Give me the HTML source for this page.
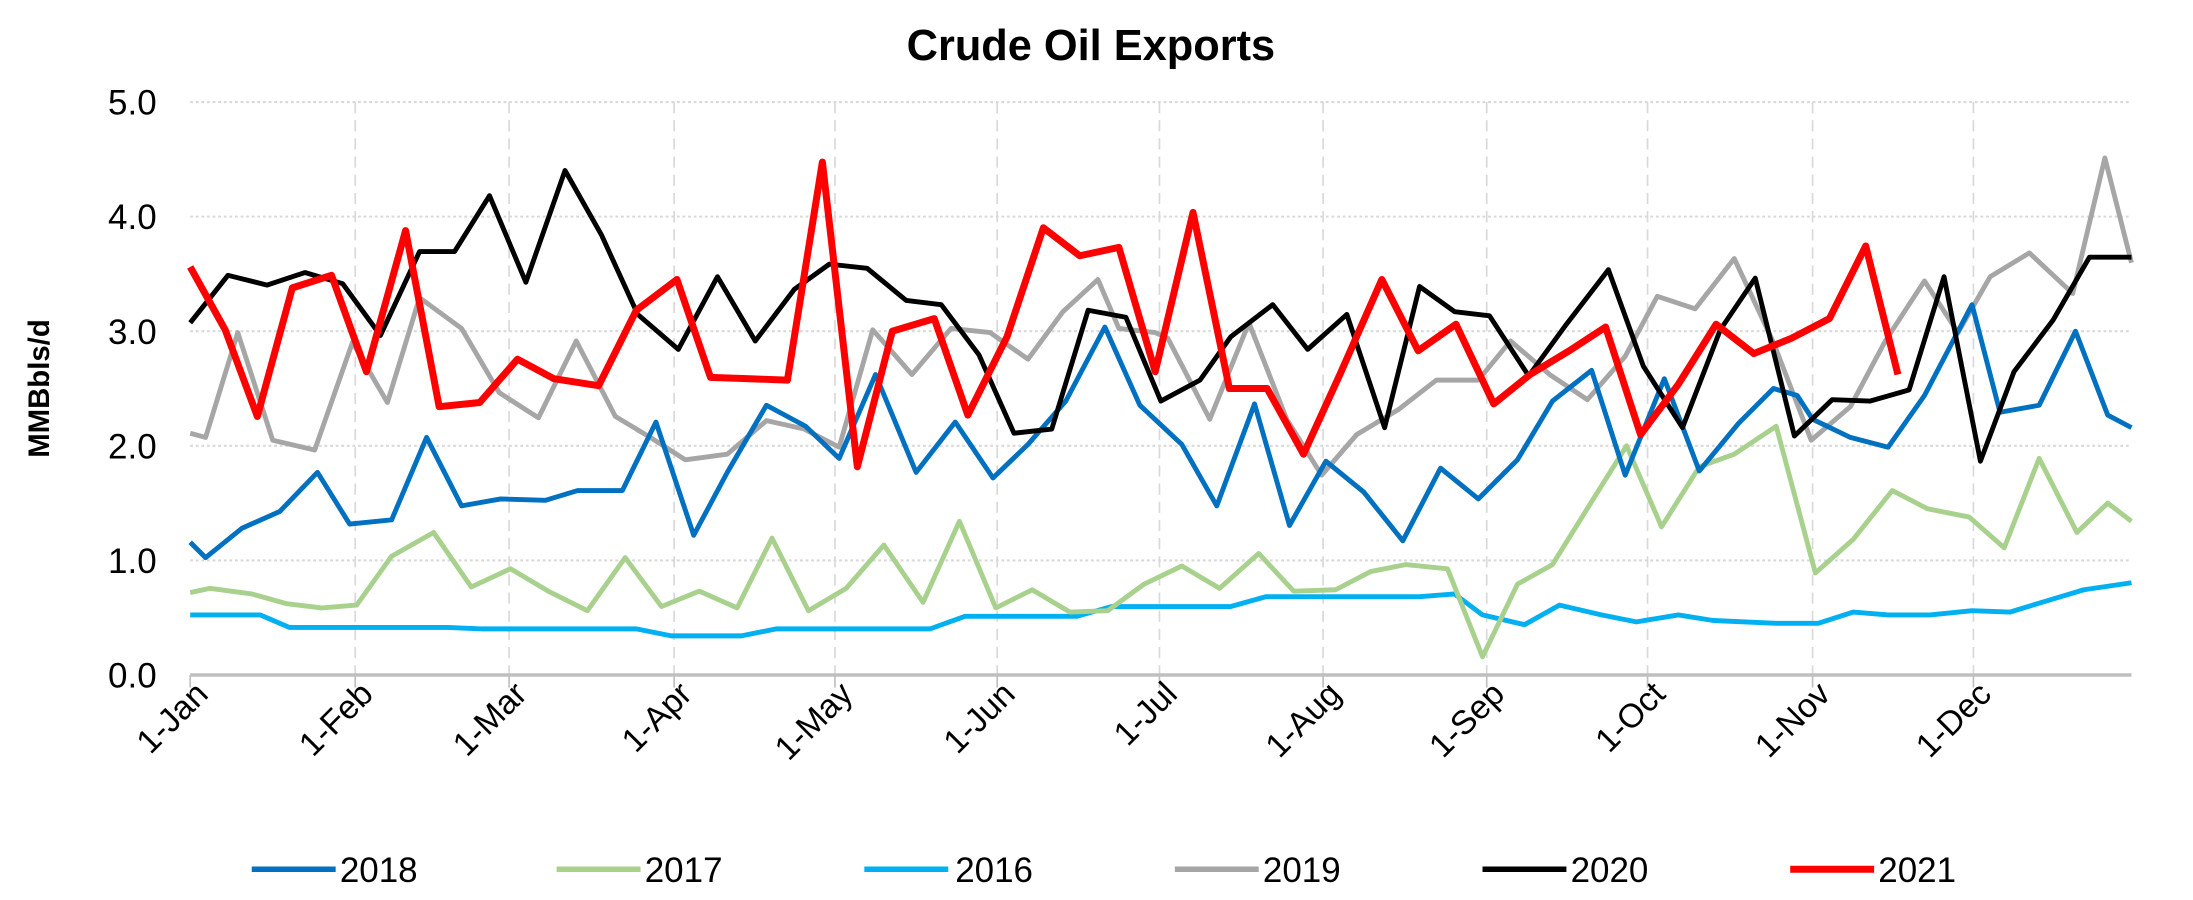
<!DOCTYPE html>
<html><head><meta charset="utf-8"><style>
html,body{margin:0;padding:0;background:#fff;}
svg{display:block;}
text{font-family:"Liberation Sans",sans-serif;}
</style></head><body>
<svg width="2193" height="900" viewBox="0 0 1568 644" preserveAspectRatio="none" xmlns="http://www.w3.org/2000/svg">
<rect width="1568" height="644" fill="#fff"/>
<text x="780" y="43" text-anchor="middle" font-size="31" font-weight="bold">Crude Oil Exports</text>
<g stroke="#d9d9d9" stroke-width="1.5" stroke-dasharray="2,2">
<line x1="136" y1="73" x2="1524" y2="73"/><line x1="136" y1="155" x2="1524" y2="155"/><line x1="136" y1="237" x2="1524" y2="237"/><line x1="136" y1="319" x2="1524" y2="319"/><line x1="136" y1="401" x2="1524" y2="401"/>
</g>
<g stroke="#d9d9d9" stroke-width="1.2" stroke-dasharray="8,5">
<line x1="254" y1="73" x2="254" y2="483"/><line x1="364" y1="73" x2="364" y2="483"/><line x1="482" y1="73" x2="482" y2="483"/><line x1="597" y1="73" x2="597" y2="483"/><line x1="713" y1="73" x2="713" y2="483"/><line x1="829" y1="73" x2="829" y2="483"/><line x1="946" y1="73" x2="946" y2="483"/><line x1="1063" y1="73" x2="1063" y2="483"/><line x1="1178" y1="73" x2="1178" y2="483"/><line x1="1296" y1="73" x2="1296" y2="483"/><line x1="1411" y1="73" x2="1411" y2="483"/>
</g>
<line x1="136" y1="483" x2="1524" y2="483" stroke="#bfbfbf" stroke-width="2.5"/>
<g stroke="#bfbfbf" stroke-width="1.2">
<line x1="136" y1="483" x2="136" y2="492"/><line x1="254" y1="483" x2="254" y2="492"/><line x1="364" y1="483" x2="364" y2="492"/><line x1="482" y1="483" x2="482" y2="492"/><line x1="597" y1="483" x2="597" y2="492"/><line x1="713" y1="483" x2="713" y2="492"/><line x1="829" y1="483" x2="829" y2="492"/><line x1="946" y1="483" x2="946" y2="492"/><line x1="1063" y1="483" x2="1063" y2="492"/><line x1="1178" y1="483" x2="1178" y2="492"/><line x1="1296" y1="483" x2="1296" y2="492"/><line x1="1411" y1="483" x2="1411" y2="492"/>
</g>
<g font-size="25" text-anchor="end">
<text x="112" y="82">5.0</text><text x="112" y="164">4.0</text><text x="112" y="246">3.0</text><text x="112" y="328">2.0</text><text x="112" y="410">1.0</text><text x="112" y="492">0.0</text>
</g>
<text transform="translate(35,278) rotate(-90)" text-anchor="middle" font-size="21" font-weight="bold">MMBbls/d</text>
<g font-size="24" text-anchor="end">
<text transform="translate(150,498) rotate(-45)">1-Jan</text>
<text transform="translate(268,498) rotate(-45)">1-Feb</text>
<text transform="translate(378,498) rotate(-45)">1-Mar</text>
<text transform="translate(496,498) rotate(-45)">1-Apr</text>
<text transform="translate(611,498) rotate(-45)">1-May</text>
<text transform="translate(727,498) rotate(-45)">1-Jun</text>
<text transform="translate(843,498) rotate(-45)">1-Jul</text>
<text transform="translate(960,498) rotate(-45)">1-Aug</text>
<text transform="translate(1077,498) rotate(-45)">1-Sep</text>
<text transform="translate(1192,498) rotate(-45)">1-Oct</text>
<text transform="translate(1310,498) rotate(-45)">1-Nov</text>
<text transform="translate(1425,498) rotate(-45)">1-Dec</text>
</g>
<g fill="none" stroke-linejoin="round">
<polyline stroke="#00B0F0" stroke-width="3.5" points="136,440 186,440 207,449 320,449 345,450 455,450 480,455 530,455 555,450 665,450 690,441 770,441 795,434 880,434 905,427 1015,427 1040,425 1060,440 1090,447 1115,433 1145,440 1170,445 1200,440 1225,444 1270,446 1300,446 1325,438 1350,440 1380,440 1410,437 1437,438 1460,431 1490,422 1524,417"/>
<polyline stroke="#A9D18E" stroke-width="3.5" points="136,424 150,421 180,425 205,432 230,435 255,433 280,398 310,381 337,420 365,407 392,423 420,437 447,399 473,434 500,423 527,435 552,385 578,437 605,421 632,390 660,431 686,373 712,435 738,422 765,438 792,437 818,418 845,405 872,421 900,396 925,423 955,422 980,409 1005,404 1035,407 1060,470 1085,418 1110,404 1138,359 1163,319 1188,377 1215,334 1240,325 1270,305 1298,410 1325,386 1353,351 1378,364 1408,370 1433,392 1458,328 1485,381 1507,360 1524,373"/>
<polyline stroke="#A6A6A6" stroke-width="3.5" points="136,310 147,313 170,238 195,315 225,322 252,245 277,288 300,213 330,235 357,281 385,299 412,244 440,298 465,313 490,329 520,325 548,301 575,307 600,320 624,236 652,268 680,235 708,238 735,257 760,223 785,200 800,235 826,238 835,242 865,300 893,231 920,300 945,340 970,311 1000,293 1027,272 1057,272 1080,244 1108,268 1135,286 1162,255 1185,212 1212,221 1240,185 1268,245 1295,315 1323,291 1348,244 1376,201 1400,238 1423,198 1451,181 1482,210 1505,113 1524,188"/>
<polyline stroke="#0070C0" stroke-width="3.5" points="136,388 147,399 173,378 200,366 227,338 250,375 280,372 305,313 330,362 358,357 390,358 413,351 445,351 469,302 496,383 520,338 548,290 576,305 600,328 626,268 655,338 683,302 710,342 735,318 762,287 790,234 815,290 845,318 870,362 897,289 922,376 948,330 975,352 1003,387 1030,335 1057,357 1085,329 1110,287 1138,265 1162,340 1190,271 1215,337 1243,303 1268,278 1285,283 1296,300 1323,313 1350,320 1376,283 1410,218 1430,295 1458,290 1484,237 1507,297 1524,306"/>
<polyline stroke="#000" stroke-width="3.5" points="136,231 163,197 191,204 218,195 245,203 272,240 300,180 325,180 350,140 376,202 404,122 430,168 456,225 485,250 513,198 540,244 568,207 593,189 620,192 648,215 673,218 700,254 725,310 752,307 778,222 805,227 830,287 858,272 880,241 910,218 935,250 963,225 990,306 1015,205 1040,223 1065,226 1093,269 1120,232 1150,193 1175,262 1203,306 1230,236 1255,199 1283,312 1310,286 1337,287 1365,279 1390,198 1416,330 1440,266 1468,229 1494,184 1524,184"/>
<polyline stroke="#FF0000" stroke-width="5" points="136,191 161,236 184,298 209,206 237,197 262,266 290,165 314,291 343,288 370,257 396,271 428,276 455,222 484,200 508,270 536,271 563,272 588,116 613,334 638,237 668,228 692,297 720,241 746,163 772,183 800,177 826,266 853,152 879,278 906,278 932,325 958,268 988,200 1014,251 1041,232 1068,289 1094,268 1122,251 1148,234 1173,311 1200,275 1227,232 1254,253 1281,242 1308,228 1334,176 1357,268"/>
</g>
<g font-size="25">
<line x1="180" y1="622" x2="240" y2="622" stroke="#0070C0" stroke-width="4"/><text x="243" y="631">2018</text>
<line x1="398" y1="622" x2="458" y2="622" stroke="#A9D18E" stroke-width="4"/><text x="461" y="631">2017</text>
<line x1="618" y1="622" x2="678" y2="622" stroke="#00B0F0" stroke-width="4"/><text x="683" y="631">2016</text>
<line x1="840" y1="622" x2="900" y2="622" stroke="#A6A6A6" stroke-width="4"/><text x="903" y="631">2019</text>
<line x1="1060" y1="622" x2="1120" y2="622" stroke="#000" stroke-width="4"/><text x="1123" y="631">2020</text>
<line x1="1280" y1="622" x2="1340" y2="622" stroke="#FF0000" stroke-width="5"/><text x="1343" y="631">2021</text>
</g>
</svg>
</body></html>
